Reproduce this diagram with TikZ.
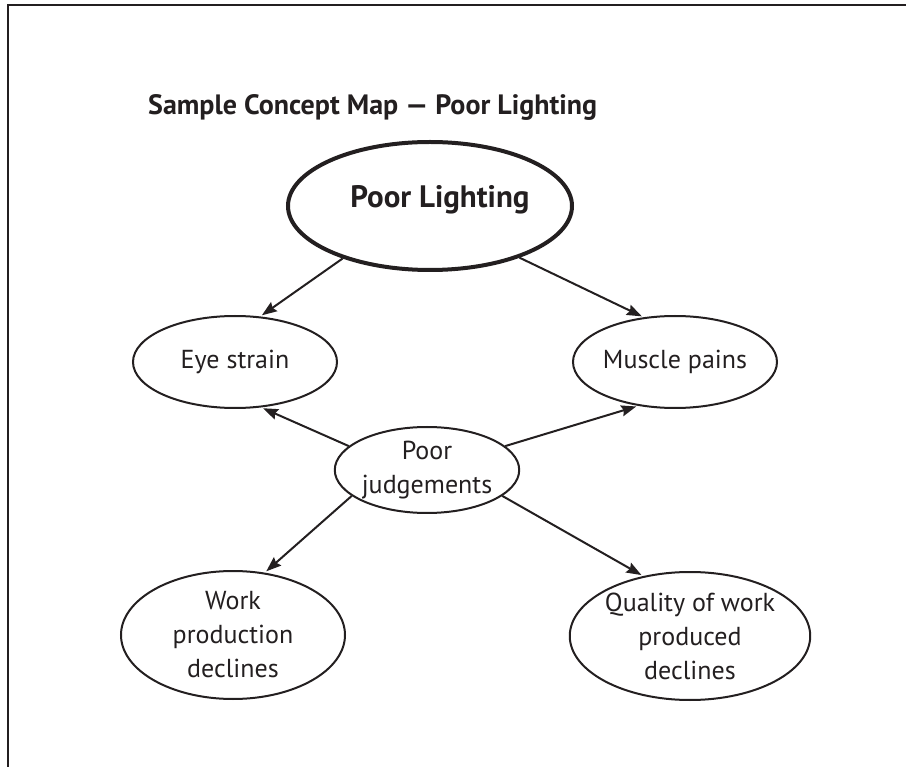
\documentclass[tikz,border=0pt]{standalone}
\usepackage{fontspec}
\setmainfont{PT Sans}
\usetikzlibrary{arrows.meta,shapes.geometric}
\definecolor{ink}{HTML}{231F20}
\tikzset{
  concept/.style={ellipse, draw=ink, line width=2pt, inner sep=0pt, text=ink, align=center, font=\fontsize{26}{34}\selectfont},
  mainconcept/.style={concept, line width=4pt, font=\fontsize{31}{36}\selectfont\bfseries},
  arr/.style={draw=ink, line width=2pt, -{Stealth[length=15pt,width=11pt,inset=2pt]}, shorten >=2pt}
}
\begin{document}
\begin{tikzpicture}[x=1pt,y=-1pt]
\useasboundingbox (0,0) rectangle (906,767);
\draw[ink, line width=2pt] (906,5.5) -- (7.5,5.5) -- (7.5,767);
\node[text=ink, font=\fontsize{28}{32}\selectfont\bfseries, anchor=base west, inner sep=0pt] (title) at (148,115) {Sample Concept Map — Poor Lighting};
\node[mainconcept, minimum width=284pt, minimum height=128pt] (pl) at (430,206) {};
\node[text=ink, font=\fontsize{31}{36}\selectfont\bfseries] (pltext) at (440,200) {Poor Lighting};
\node[concept, minimum width=204pt, minimum height=92pt] (es) at (235,362) {Eye strain};
\node[concept, minimum width=204pt, minimum height=92pt] (mp) at (675,362) {Muscle pains};
\node[concept, minimum width=176pt, minimum height=86pt] (pj) at (427,470) {Poor\\judgements};
\node[concept, minimum width=224pt, minimum height=128pt] (wp) at (233,635) {Work\\production\\declines};
\node[concept, minimum width=224pt, minimum height=128pt] (qw) at (690,636) {Quality of work\\produced\\declines};
\draw[arr] (pl.211) -- (es.61);
\draw[arr] (pl.-30) -- (mp.125);
\draw[arr] (pj.163) -- (es.-60);
\draw[arr] (pj.17) -- (mp.230);
\draw[arr] (pj.199) -- (wp.63);
\draw[arr] (pj.-19) -- (qw.128);
\end{tikzpicture}
\end{document}
